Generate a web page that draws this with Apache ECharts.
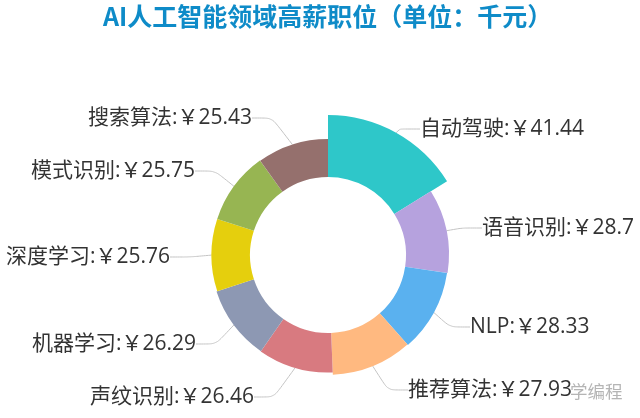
<!DOCTYPE html>
<html>
<head>
<meta charset="utf-8">
<script src="https://cdn.jsdelivr.net/npm/echarts@6/dist/echarts.min.js"></script>
<style>html,body{margin:0;padding:0;background:#fff}#main{width:640px;height:418px}</style>
</head>
<body>
<div id="main"></div>
<script>
var names = ['自动驾驶', '语音识别', 'NLP', '推荐算法', '声纹识别', '机器学习', '深度学习', '模式识别', '搜索算法'];
var values = [41.44, 28.7, 28.33, 27.93, 26.46, 26.29, 25.76, 25.75, 25.43];
var colors = ['#2ec7c9', '#b6a2de', '#5ab1ef', '#ffb980', '#d87a80', '#8d98b3', '#e5cf0d', '#97b552', '#95706d'];
// where each label's outer edge sits, slice order
var labelX = [420, 482, 470, 408, 254, 196, 170, 195, 252];
var labelY = [129, 228, 327, 390, 397, 344, 257, 171, 118];

var chart = echarts.init(document.getElementById('main'), null, {renderer: 'canvas'});

var pieData = names.map(function (n, i) {
    return {name: n, value: values[i]};
});

chart.setOption({
    animation: false,
    color: colors,
    title: {
        text: 'AI人工智能领域高薪职位（单位：千元）',
        left: 98,
        top: -1,
        textStyle: {color: '#0e8bc8', fontSize: 25, fontWeight: 'bold', fontFamily: 'Noto Sans CJK SC'}
    },
    graphic: [{
        type: 'text',
        left: 570,
        top: 383,
        z: 0,
        style: {text: '学编程', fill: '#b5b5b5', fontSize: 17.5, fontFamily: 'Noto Sans CJK SC'}
    }],
    series: [{
        type: 'pie',
        center: [328, 255],
        radius: [78, 140],
        roseType: 'radius',
        startAngle: 90,
        minShowLabelAngle: 0,
        label: {
            formatter: '{b}:￥{c}',
            fontSize: 21,
            color: '#333',
            overflow: 'none',
            fontFamily: 'Open Sans, Noto Sans CJK SC'
        },
        labelLine: {length: 16, length2: 20, smooth: 0.2, lineStyle: {width: 1, color: '#c4c4c4'}},
        labelLayout: function (params) {
            var i = params.dataIndex;
            return {
                x: labelX[i],
                y: labelY[i],
                align: i < 4 ? 'left' : 'right',
                verticalAlign: 'middle'
            };
        },
        data: pieData
    }]
});
</script>
</body>
</html>
